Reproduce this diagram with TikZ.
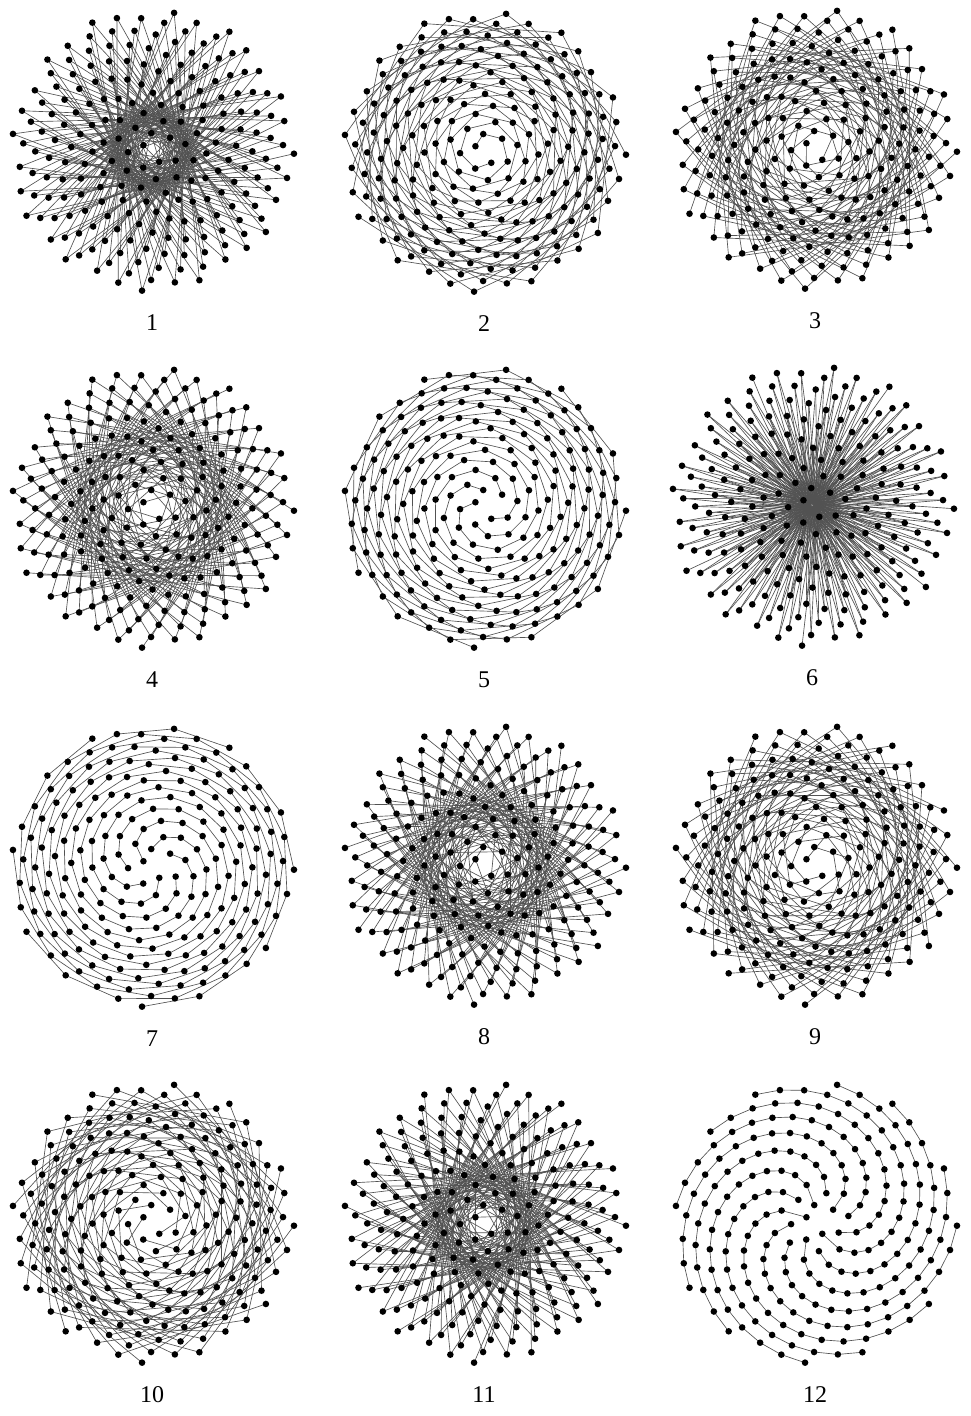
\documentclass[tikz,border=0pt]{standalone}
\usepackage{fontspec}
\setmainfont{Liberation Serif}

\tikzset{
  edge/.style={black!68, line width=0.65pt},
  seed/.style={black},
  caption/.style={font=\fontsize{24}{28}\selectfont}
}

\begin{document}
\begin{tikzpicture}[x=1pt, y=1pt]
    \useasboundingbox (0,0) rectangle (970,-1416);

    % one panel per step k: seed n is joined to seed n+k
    \foreach \k/\cx/\cy in {1/152/150, 2/484/151, 3/815/148,
                            4/152/507, 5/484/507, 6/812/505,
                            7/152/866, 8/484/864, 9/815/864,
                            10/152/1222, 11/484/1222, 12/815/1222} {
      \begin{scope}[shift={(\cx,-\cy)}]
        % seeds: divergence 150 deg plus a small drift
        \foreach \n in {1,...,210}
          \coordinate (s\k-\n) at ({mod(\n,12)*150 + \n*0.85}:{9.8*sqrt(\n)});

        % connectors
        \pgfmathtruncatemacro{\last}{210-\k}
        \foreach \n [evaluate=\n as \m using int(\n+\k)] in {1,...,\last}
          \draw[edge] (s\k-\n) -- (s\k-\m);

        % dots
        \foreach \n in {1,...,210}
          \fill[seed] (s\k-\n) circle (3.3);

        \node[caption] (lab\k) at (0,-173) {\k};
      \end{scope}
    }
\end{tikzpicture}
\end{document}
